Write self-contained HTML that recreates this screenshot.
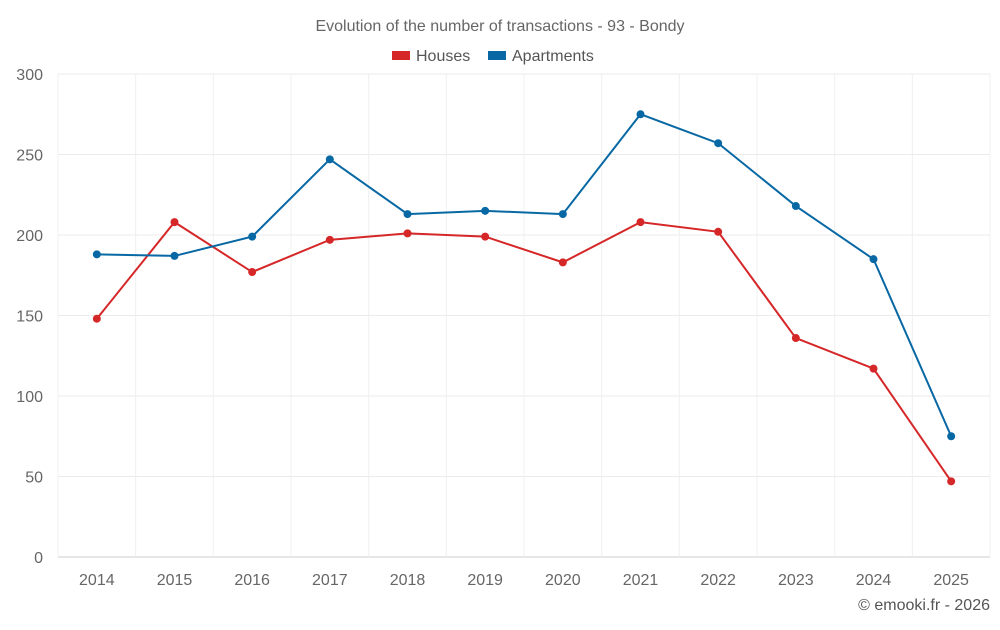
<!DOCTYPE html>
<html><head><meta charset="utf-8"><style>
body{margin:0;background:#fff;font-family:"Liberation Sans",sans-serif}
svg text{font-family:"Liberation Sans",sans-serif}
</style></head><body>
<svg id="c" width="1000" height="625" xmlns="http://www.w3.org/2000/svg">
<text x="500" y="31" text-anchor="middle" font-size="16" fill="#666">Evolution of the number of transactions - 93 - Bondy</text>
<g>
<g><rect x="392" y="51" width="18" height="9" fill="#d62728"/><text x="416" y="61" font-size="16" fill="#555">Houses</text></g>
<g><rect x="488" y="51" width="18" height="9" fill="#0868a4"/><text x="512" y="61" font-size="16" fill="#555">Apartments</text></g>
</g>
<g id="grid"></g><g id="axes"></g><g id="series"></g>
<text x="990" y="610" text-anchor="end" font-size="16" fill="#555">© emooki.fr - 2026</text>
</svg>
<script>
const categories=["2014","2015","2016","2017","2018","2019","2020","2021","2022","2023","2024","2025"];
const houses=[148,208,177,197,201,199,183,208,202,136,117,47];
const apartments=[188,187,199,247,213,215,213,275,257,218,185,75];
const yTicks=[0,50,100,150,200,250,300];
const NS="http://www.w3.org/2000/svg";
const L=58,R=990,T=74,B=557,yMax=300;
const bw=(R-L)/categories.length;
const x=i=>L+bw*(i+0.5);
const y=v=>B-(v/yMax)*(B-T);
function mk(t,a,p){const e=document.createElementNS(NS,t);for(const k in a)e.setAttribute(k,a[k]);p.appendChild(e);return e;}
const grid=document.getElementById('grid'),axes=document.getElementById('axes'),ser=document.getElementById('series');
yTicks.forEach(v=>{
 const l=mk('line',{x1:L,x2:R,y1:y(v),y2:y(v),stroke:v===0?'#ccc':'#ebebeb','stroke-width':1},grid);
 
 
 const t=mk('text',{x:L-15,y:y(v)+6,'text-anchor':'end','font-size':16,fill:'#666'},axes);
 t.textContent=v;
 
 
});
for(let i=0;i<=categories.length;i++){
 const l=mk('line',{x1:L+bw*i,x2:L+bw*i,y1:T,y2:B,stroke:'#f0f0f0','stroke-width':1},grid);
 
 
}
categories.forEach((c,i)=>{
 const t=mk('text',{x:x(i),y:585,'text-anchor':'middle','font-size':16,fill:'#666'},axes);
 t.textContent=c;
 
 
});
function draw(data,color,name){
 const p=mk('polyline',{points:data.map((v,i)=>x(i)+','+y(v)).join(' '),fill:'none',stroke:color,'stroke-width':2},ser);
 
 
 data.forEach((v,i)=>{
  const c=mk('circle',{cx:x(i),cy:y(v),r:4,fill:color},ser);
  
  
 });
}
draw(houses,'#d62728','houses');
draw(apartments,'#0868a4','apartments');
</script>
</body></html>
